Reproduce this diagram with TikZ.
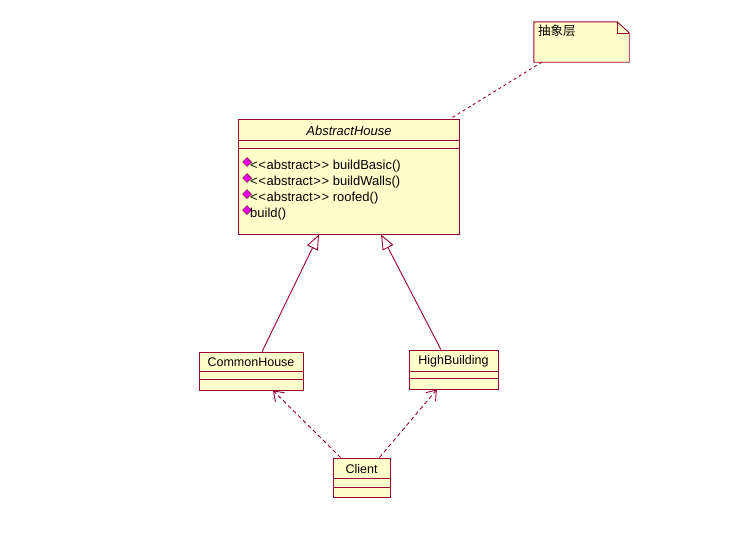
\documentclass[tikz,border=0pt]{standalone}
\usepackage{fontspec}
\setmainfont{Liberation Sans}
\newfontfamily\cjk{Noto Sans CJK SC}
\usetikzlibrary{arrows.meta,calc,shapes.geometric}
\definecolor{umlline}{RGB}{153,0,51}
\definecolor{umlfill}{RGB}{255,255,204}
\definecolor{opmark}{RGB}{230,0,230}
\newcommand{\ltlt}{<\kern0.6pt<\kern0.6pt}
\newcommand{\gtgt}{\kern0.6pt>\kern0.6pt>}
\tikzset{
  classbox/.style={draw=umlline, fill=umlfill, line width=0.9pt, inner sep=0pt},
  sepline/.style={draw=umlline, line width=0.9pt},
  title/.style={font=\fontsize{12.5}{14}\selectfont, inner sep=0pt},
  optext/.style={font=\fontsize{13}{15}\selectfont, inner sep=0pt, anchor=west},
  opdiamond/.style={diamond, fill=opmark, draw=purple!70!black, line width=0.5pt, minimum width=9pt, minimum height=9pt, inner sep=0pt},
  inherit/.style={draw=umlline, line width=0.9pt, -{Triangle[open,length=15pt,width=12pt,fill=white]}},
  depend/.style={draw=umlline, line width=0.9pt, dash pattern=on 4pt off 3pt, -{Straight Barb[length=9pt,width=13pt]}},
  notelink/.style={draw=umlline, line width=0.9pt, dash pattern=on 3pt off 3pt},
}
\begin{document}
\begin{tikzpicture}[x=1pt,y=-1pt]
\useasboundingbox (0,0) rectangle (754,557);
\fill[white] (0,0) rectangle (754,557);

% AbstractHouse
\node[classbox, minimum width=221pt, minimum height=115pt] (ah) at (348.5,176.5) {};
\draw[sepline] ($(ah.north west)+(0,22)$) -- ($(ah.north east)+(0,22)$);
\draw[sepline] ($(ah.north west)+(0,30)$) -- ($(ah.north east)+(0,30)$);
\node[title, font=\fontsize{13}{14}\selectfont\itshape] (aht) at (349,131) {AbstractHouse};
\node[opdiamond] (d1) at (247,162) {};
\node[optext] (o1) at (250,166.5) {\ltlt abstract\gtgt{} buildBasic()};
\node[opdiamond] (d2) at (247,178) {};
\node[optext] (o2) at (250,182.5) {\ltlt abstract\gtgt{} buildWalls()};
\node[opdiamond] (d3) at (247,194) {};
\node[optext] (o3) at (250,198.5) {\ltlt abstract\gtgt{} roofed()};
\node[opdiamond] (d4) at (247,210) {};
\node[optext] (o4) at (250,214.5) {build()};

% CommonHouse
\node[classbox, minimum width=104pt, minimum height=38pt] (ch) at (251,371) {};
\draw[sepline] ($(ch.north west)+(0,20)$) -- ($(ch.north east)+(0,20)$);
\draw[sepline] ($(ch.north west)+(0,28)$) -- ($(ch.north east)+(0,28)$);
\node[title] (cht) at (251,362.5) {CommonHouse};

% HighBuilding
\node[classbox, minimum width=89pt, minimum height=39pt] (hb) at (453.5,369.5) {};
\draw[sepline] ($(hb.north west)+(0,22)$) -- ($(hb.north east)+(0,22)$);
\draw[sepline] ($(hb.north west)+(0,29)$) -- ($(hb.north east)+(0,29)$);
\node[title] (hbt) at (453.5,361.5) {HighBuilding};

% Client
\node[classbox, minimum width=57pt, minimum height=39pt] (cl) at (361.5,477.5) {};
\draw[sepline] ($(cl.north west)+(0,21)$) -- ($(cl.north east)+(0,21)$);
\draw[sepline] ($(cl.north west)+(0,30)$) -- ($(cl.north east)+(0,30)$);
\node[title] (clt) at (361.5,469.5) {Client};

% Note
\node[minimum width=95pt, minimum height=40pt, inner sep=0pt] (note) at (581.5,42) {};
\draw[classbox] (note.north west) -- ($(note.north east)+(-12,0)$) -- ($(note.north east)+(0,11)$) -- (note.south east) -- (note.south west) -- cycle;
\draw[sepline, line width=0.6pt] ($(note.north east)+(-12,0)$) -- ($(note.north east)+(-12,11)$) -- ($(note.north east)+(0,11)$);
\node[font=\cjk\fontsize{12.5}{14}\selectfont, inner sep=0pt, anchor=north west] (notet) at (538,25) {抽象层};

% connectors
\draw[inherit] ($(ch.north west)!0.606!(ch.north east)$) -- ($(ah.south west)!0.367!(ah.south east)$);
\draw[inherit] ($(hb.north west)!0.36!(hb.north east)$) -- ($(ah.south west)!0.647!(ah.south east)$);
\draw[depend] ($(cl.north west)!0.14!(cl.north east)$) -- ($(ch.south west)!0.71!(ch.south east)$);
\draw[depend] ($(cl.north west)!0.81!(cl.north east)$) -- ($(hb.south west)!0.315!(hb.south east)$);
\draw[notelink] ($(note.south west)!0.084!(note.south east)$) -- ($(ah.north west)!0.96!(ah.north east)$);
\end{tikzpicture}
\end{document}
